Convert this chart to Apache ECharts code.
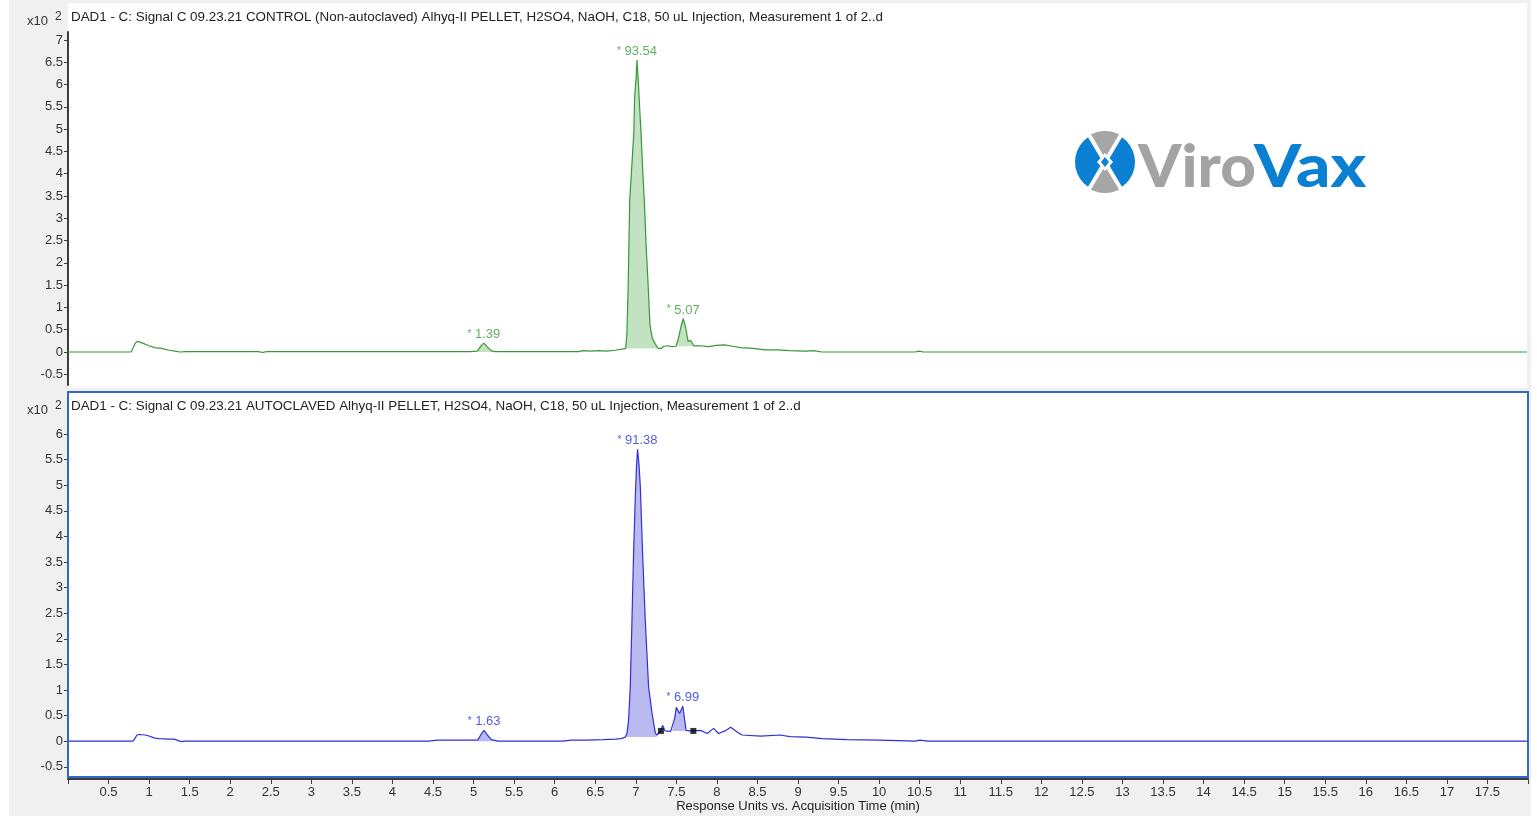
<!DOCTYPE html>
<html>
<head>
<meta charset="utf-8">
<title>DAD1 Signal C chromatograms</title>
<script src="https://cdn.jsdelivr.net/npm/echarts@6.0.0/dist/echarts.min.js"></script>
<style>
  html, body { margin: 0; padding: 0; background: #f0f0f0; }
  #chart { width: 1537px; height: 816px; }
</style>
</head>
<body>
<div id="chart"></div>
<script>
// signal values are in units of x10^2, time in minutes
var topTitle = 'DAD1 - C: Signal C 09.23.21 CONTROL (Non-autoclaved) Alhyq-II PELLET, H2SO4, NaOH, C18, 50 uL Injection, Measurement 1 of 2..d';
var bottomTitle = 'DAD1 - C: Signal C 09.23.21 AUTOCLAVED Alhyq-II PELLET, H2SO4, NaOH, C18, 50 uL Injection, Measurement 1 of 2..d';

var topTrace = [
  [0, 0], [0.78, 0], [0.80, 0.02], [0.83, 0.2], [0.86, 0.24], [0.92, 0.2], [1.0, 0.14], [1.07, 0.1],
  [1.15, 0.08], [1.25, 0.04], [1.32, 0.02], [1.38, 0], [1.45, 0.01], [2.35, 0.01], [2.4, -0.01],
  [2.45, 0.01], [4.95, 0.01], [5.05, 0.02], [5.10, 0.15], [5.13, 0.2], [5.17, 0.12], [5.22, 0.03],
  [5.27, 0.01], [6.3, 0.01], [6.35, 0.03], [6.45, 0.02], [6.55, 0.03], [6.65, 0.02], [6.75, 0.04],
  [6.85, 0.07], [6.88, 0.08], [6.895, 0.4], [6.91, 1.4], [6.93, 3.4], [6.96, 4.3], [6.98, 4.9],
  [6.99, 5.7], [7.01, 6.2], [7.02, 6.55], [7.035, 6.1], [7.055, 5.4], [7.07, 4.9], [7.09, 4.1],
  [7.11, 3.4], [7.135, 2.3], [7.16, 1.4], [7.18, 0.6], [7.21, 0.3], [7.24, 0.2], [7.28, 0.08],
  [7.32, 0.08], [7.35, 0.13], [7.40, 0.14], [7.45, 0.12], [7.50, 0.13], [7.53, 0.3], [7.56, 0.55],
  [7.59, 0.75], [7.62, 0.55], [7.65, 0.24], [7.68, 0.26], [7.72, 0.14], [7.8, 0.14], [7.9, 0.12],
  [8.0, 0.15], [8.1, 0.16], [8.2, 0.13], [8.3, 0.1], [8.45, 0.08], [8.6, 0.05], [8.75, 0.05],
  [8.9, 0.03], [9.1, 0.02], [9.2, 0.03], [9.3, 0], [10.45, 0], [10.5, 0.02], [10.55, 0], [18, 0]
];

var bottomTrace = [
  [0, 0], [0.80, 0], [0.82, 0.04], [0.85, 0.12], [0.88, 0.13], [0.95, 0.12], [1.0, 0.1], [1.07, 0.06],
  [1.12, 0.05], [1.19, 0.045], [1.25, 0.04], [1.31, 0.04], [1.36, 0.01], [1.4, -0.01], [1.44, 0],
  [4.45, 0], [4.55, 0.02], [4.9, 0.02], [5.05, 0.02], [5.10, 0.15], [5.13, 0.21], [5.17, 0.12],
  [5.22, 0.03], [5.3, 0], [6.1, 0], [6.2, 0.02], [6.4, 0.02], [6.6, 0.03], [6.75, 0.04], [6.82, 0.05],
  [6.87, 0.08], [6.891, 0.15], [6.911, 0.41], [6.932, 1.06], [6.953, 2.36], [6.973, 3.67],
  [6.994, 4.77], [7.01, 5.4], [7.022, 5.70], [7.04, 5.4], [7.056, 4.97], [7.084, 3.67], [7.117, 2.36],
  [7.158, 1.06], [7.2, 0.55], [7.241, 0.16], [7.26, 0.12], [7.31, 0.2], [7.33, 0.31], [7.36, 0.2],
  [7.38, 0.17], [7.43, 0.19], [7.45, 0.21], [7.48, 0.45], [7.50, 0.66], [7.54, 0.54], [7.58, 0.68],
  [7.62, 0.21], [7.66, 0.2], [7.71, 0.2], [7.80, 0.21], [7.88, 0.15], [7.96, 0.25], [8.02, 0.15],
  [8.10, 0.2], [8.17, 0.27], [8.25, 0.18], [8.31, 0.12], [8.54, 0.1], [8.78, 0.12], [8.9, 0.09],
  [9.1, 0.08], [9.3, 0.05], [9.6, 0.03], [10.0, 0.02], [10.45, 0], [10.5, 0.02], [10.6, 0], [18, 0]
];

// integrated peaks: [start, end, baseline]
var topPeakRanges = [[5.05, 5.27, 0], [6.88, 7.28, 0.08], [7.50, 7.72, 0.13]];
var bottomPeakRanges = [[5.05, 5.3, 0], [6.87, 7.26, 0.08], [7.45, 7.66, 0.2]];

var topPeakTime = [5.13, 7.02, 7.59];
var topPeakHeight = [0.2, 6.55, 0.75];
var topPeakArea = ['1.39', '93.54', '5.07'];

var bottomPeakTime = [5.13, 7.022, 7.58];
var bottomPeakHeight = [0.21, 5.70, 0.68];
var bottomPeakArea = ['1.63', '91.38', '6.99'];

var bottomMarks = [[7.31, 0.2], [7.71, 0.2]];

var topYTicks = [-0.5, 0, 0.5, 1, 1.5, 2, 2.5, 3, 3.5, 4, 4.5, 5, 5.5, 6, 6.5, 7];
var bottomYTicks = [-0.5, 0, 0.5, 1, 1.5, 2, 2.5, 3, 3.5, 4, 4.5, 5, 5.5, 6];

var FONT = 'Liberation Sans';
var GREEN = '#379837', GREEN_FILL = '#c3e2c1';
var BLUE = '#2f2fd8', BLUE_FILL = '#babaf0';

function slice(trace, a, b) {
  return trace.filter(function (p) { return p[0] >= a && p[0] <= b; });
}

function yAxis(idx, min, max, ticks) {
  return {
    type: 'value', gridIndex: idx, min: min, max: max,
    axisLine: { show: true, onZero: false, lineStyle: { color: '#3c3c3c', width: 2 } },
    axisTick: { show: true, length: 4, customValues: ticks, lineStyle: { color: '#3c3c3c' } },
    axisLabel: { customValues: ticks, margin: 5, color: '#333', fontSize: 13, fontFamily: FONT },
    splitLine: { show: false }
  };
}

var series = [];
function addPanel(idx, trace, ranges, color, fill, pt, ph, pa) {
  ranges.forEach(function (r) {
    series.push({
      type: 'line', xAxisIndex: idx, yAxisIndex: idx, data: slice(trace, r[0], r[1]),
      symbol: 'none', lineStyle: { width: 0 }, areaStyle: { color: fill, opacity: 1, origin: r[2] },
      z: 2, silent: true
    });
  });
  series.push({
    type: 'line', xAxisIndex: idx, yAxisIndex: idx, data: trace, symbol: 'none',
    lineStyle: { color: color, width: 1.2 }, z: 3
  });
  series.push({
    type: 'scatter', xAxisIndex: idx, yAxisIndex: idx, symbolSize: 0,
    data: pt.map(function (t, i) { return [t, ph[i], pa[i]]; }),
    label: {
      show: true, position: 'top', distance: 2, color: color, fontSize: 13, fontFamily: FONT,
      formatter: function (p) { return '{s|*} ' + p.data[2]; },
      rich: { s: { fontSize: 10, color: color, padding: [0, 0, 1, 0] } }
    },
    z: 4
  });
}

addPanel(0, topTrace, topPeakRanges, GREEN, GREEN_FILL, topPeakTime, topPeakHeight, topPeakArea);
addPanel(1, bottomTrace, bottomPeakRanges, BLUE, BLUE_FILL, bottomPeakTime, bottomPeakHeight, bottomPeakArea);
series.push({
  type: 'scatter', xAxisIndex: 1, yAxisIndex: 1, symbol: 'rect', symbolSize: 6,
  itemStyle: { color: '#000' }, data: bottomMarks, z: 5
});

var myChart = echarts.init(document.getElementById('chart'));
var option = {
  backgroundColor: '#f0f0f0',
  animation: false,
  grid: [
    { left: 68, top: 32, width: 1459, height: 353 },
    { left: 68, top: 392, width: 1460, height: 385 }
  ],
  xAxis: [
    { type: 'value', gridIndex: 0, min: 0, max: 18, show: false },
    {
      type: 'value', gridIndex: 1, min: 0, max: 18, interval: 0.5, offset: 2,
      axisLine: { onZero: false, lineStyle: { color: '#3c3c3c', width: 2 } },
      axisTick: { length: 5, lineStyle: { color: '#3c3c3c' } },
      axisLabel: {
        margin: 7, color: '#333', fontSize: 13, fontFamily: FONT,
        formatter: function (v) { return (v === 0 || v === 18) ? '' : String(v); }
      },
      splitLine: { show: false },
      name: 'Response Units vs. Acquisition Time (min)', nameLocation: 'middle', nameGap: 20,
      nameTextStyle: { color: '#222', fontSize: 13, fontFamily: FONT }
    }
  ],
  yAxis: [
    yAxis(0, -0.74, 7.18, topYTicks),
    yAxis(1, -0.70, 6.82, bottomYTicks)
  ],
  series: series,
  graphic: [
    { type: 'rect', z: -10, shape: { x: 0, y: 0, width: 9, height: 816 }, style: { fill: '#fff' } },
    { type: 'rect', z: -10, shape: { x: 1531, y: 0, width: 6, height: 816 }, style: { fill: '#fff' } },
    { type: 'rect', z: -10, shape: { x: 68, y: 3, width: 1459, height: 385 }, style: { fill: '#fff' } },
    { type: 'rect', z: -10, shape: { x: 68, y: 392, width: 1460, height: 385 }, style: { fill: '#fff' } },
    { type: 'rect', z: 100, shape: { x: 68, y: 392, width: 1460, height: 385 }, style: { fill: 'none', stroke: '#3468c8', lineWidth: 2 } },
    { type: 'text', z: 10, style: { x: 71, y: 17, text: topTitle, fill: '#222', font: '13.4px ' + FONT, textVerticalAlign: 'middle' } },
    { type: 'text', z: 101, style: { x: 71, y: 406, text: bottomTitle, fill: '#222', font: '13.4px ' + FONT, textVerticalAlign: 'middle' } },
    { type: 'text', z: 10, style: { x: 27, y: 21, text: 'x10', fill: '#333', font: '13px ' + FONT, textVerticalAlign: 'middle' } },
    { type: 'text', z: 10, style: { x: 55, y: 17, text: '2', fill: '#333', font: '12px ' + FONT, textVerticalAlign: 'middle' } },
    { type: 'text', z: 10, style: { x: 27, y: 410, text: 'x10', fill: '#333', font: '13px ' + FONT, textVerticalAlign: 'middle' } },
    { type: 'text', z: 10, style: { x: 55, y: 406, text: '2', fill: '#333', font: '12px ' + FONT, textVerticalAlign: 'middle' } },
    // ViroVax logo
    { type: 'circle', z: 10, shape: { cx: 1105, cy: 162, r: 30 }, style: { fill: '#0b7fd1' } },
    { type: 'sector', z: 11, shape: { cx: 1105, cy: 162, r: 31, r0: 0, startAngle: -Math.PI * 0.68, endAngle: -Math.PI * 0.32 }, style: { fill: '#a6a6a6' } },
    { type: 'sector', z: 11, shape: { cx: 1105, cy: 162, r: 31, r0: 0, startAngle: Math.PI * 0.32, endAngle: Math.PI * 0.68 }, style: { fill: '#a6a6a6' } },
    { type: 'line', z: 12, shape: { x1: 1089, y1: 135, x2: 1121, y2: 189 }, style: { stroke: '#fff', lineWidth: 4 } },
    { type: 'line', z: 12, shape: { x1: 1121, y1: 135, x2: 1089, y2: 189 }, style: { stroke: '#fff', lineWidth: 4 } },
    { type: 'polygon', z: 13, shape: { points: [[1105, 153], [1113, 162], [1105, 171], [1097, 162]] }, style: { fill: '#fff' } },
    { type: 'polygon', z: 14, shape: { points: [[1105, 157], [1109, 162], [1105, 167], [1101, 162]] }, style: { fill: '#0b7fd1' } },
    { type: 'text', z: 10, x: 1138, y: 168, scaleX: 1.05, style: { x: 0, y: 0, text: 'Viro', fill: '#a3a3a3', font: '900 59px Lato', textVerticalAlign: 'middle' } },
    { type: 'text', z: 10, x: 1254, y: 168, scaleX: 1.14, style: { x: 0, y: 0, text: 'Vax', fill: '#0b7fd1', font: '900 59px Lato', textVerticalAlign: 'middle' } }
  ]
};
myChart.setOption(option);
window.addEventListener('resize', function () {
  myChart.resize();
});
</script>
</body>
</html>
